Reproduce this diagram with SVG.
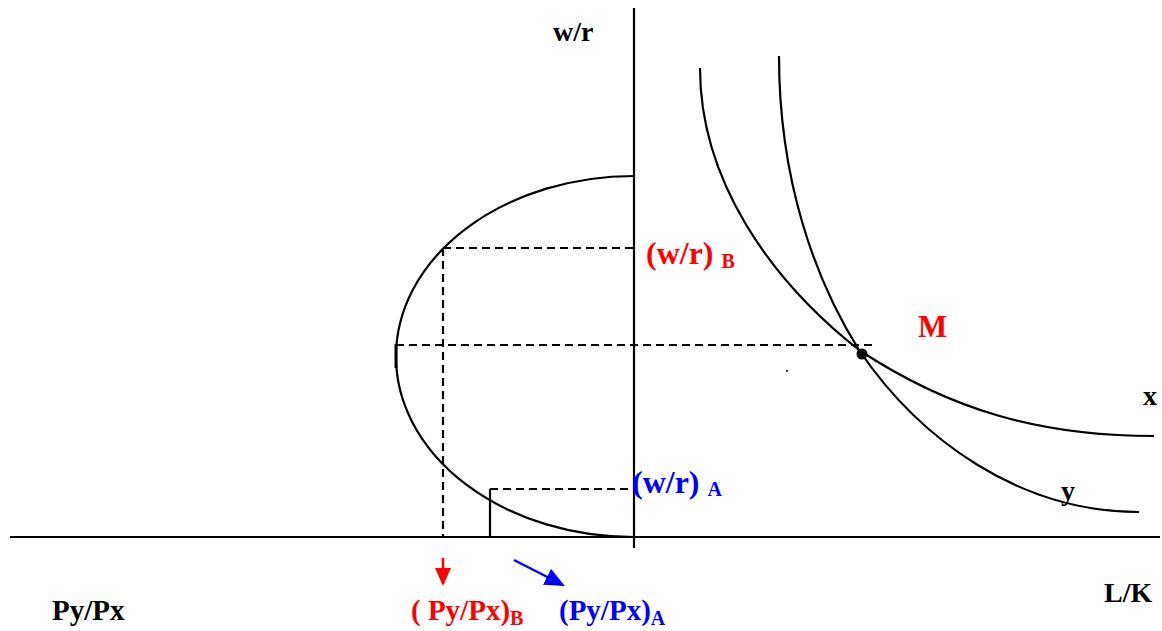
<svg xmlns="http://www.w3.org/2000/svg" width="1162" height="631" viewBox="0 0 1162 631">
<style>
.ln{fill:none;stroke:#000;stroke-width:2.2}
.dash{fill:none;stroke:#000;stroke-width:2.2;stroke-dasharray:8 5}
.t{font-family:"Liberation Serif","Times New Roman",serif;font-weight:bold;font-size:28px}
.big{font-size:32px}
.mid{font-size:29px}
.m{font-size:31px}
.s{font-family:"Liberation Serif","Times New Roman",serif;font-weight:bold;font-size:20px}
.red{fill:#ff0000}
.blue{fill:#0000ff}
.blk{fill:#000}
</style>
<defs>
<marker id="ahR" markerWidth="18" markerHeight="16" refX="16" refY="8" orient="auto" markerUnits="userSpaceOnUse">
<path d="M0,0 L18,8 L0,16 Z" fill="#ff0000"/>
</marker>
<marker id="ahB" markerWidth="20" markerHeight="18" refX="18" refY="9" orient="auto" markerUnits="userSpaceOnUse">
<path d="M0,0 L20,9 L0,18 Z" fill="#0000ff"/>
</marker>
</defs>
<g id="axes">
<line class="ln" x1="634" y1="8" x2="634" y2="548"/>
<line class="ln" x1="10" y1="537" x2="1160" y2="537"/>
</g>
<g id="ellipse-curve">
<path class="ln" d="M634,176 A238,180.5 0 0 0 634,537"/>
<line x1="396" y1="344" x2="396" y2="368" stroke="#000" stroke-width="3"/>
</g>
<g id="curve-x">
<path class="ln" d="M700,68 C700,180 770,280 859,350 C950,410 1040,436 1154,436"/>
</g>
<g id="curve-y">
<path class="ln" d="M779,56 C779,180 815,280 859,350 C920,440 1020,512 1139,512"/>
</g>
<g id="point-M">
<circle cx="862" cy="354" r="5.5" fill="#000"/>
<circle cx="787" cy="371" r="1" fill="#000"/>
</g>
<g id="connectors">
<line class="dash" x1="443" y1="248" x2="634" y2="248"/>
<line class="dash" x1="443" y1="248" x2="443" y2="537"/>
<line class="dash" x1="396" y1="345" x2="876" y2="345"/>
<line class="dash" x1="490" y1="489" x2="634" y2="489"/>
<line class="ln" x1="490" y1="489" x2="490" y2="537"/>
<line x1="443" y1="558" x2="443" y2="584" stroke="#ff0000" stroke-width="2.5" marker-end="url(#ahR)"/>
<line x1="514" y1="560" x2="563" y2="585" stroke="#0000ff" stroke-width="2.5" marker-end="url(#ahB)"/>
</g>
<g id="labels">
<text class="t blk" x="553" y="41">w/r</text>
<text class="t big red" x="646" y="264">(w/r)<tspan class="s" dx="8" dy="4">B</tspan></text>
<text class="t big blue" x="632" y="493">(w/r)<tspan class="s" dx="8" dy="3">A</tspan></text>
<text class="t m red" x="918" y="337">M</text>
<text class="t blk" x="1143" y="405">x</text>
<text class="t blk" x="1061" y="500">y</text>
<text class="t blk" x="1104" y="602">L/K</text>
<text class="t mid blk" x="52" y="620">Py/Px</text>
<text class="t mid red" x="411" y="620">( Py/Px)<tspan class="s" dy="5">B</tspan></text>
<text class="t mid blue" x="559" y="620">(Py/Px)<tspan class="s" dy="5">A</tspan></text>
</g>
</svg>
